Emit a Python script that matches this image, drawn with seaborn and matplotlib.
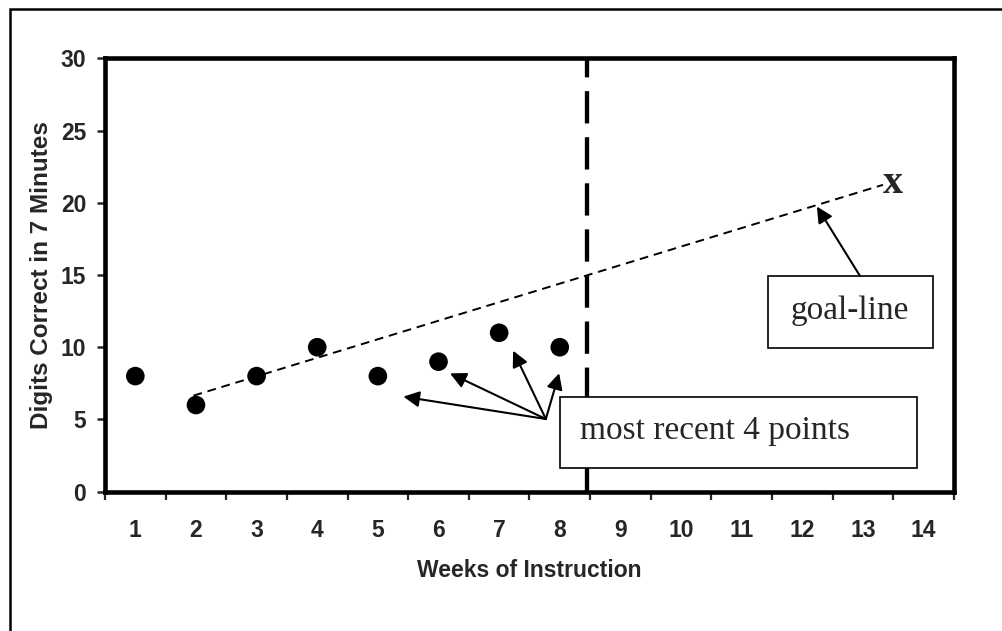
import matplotlib
matplotlib.use("Agg")
import matplotlib.pyplot as plt
from matplotlib.patches import Rectangle
import seaborn as sns

# Data

weeks = [1, 2, 3, 4, 5, 6, 7, 8]
digits_correct = [8, 6, 8, 10, 8, 9, 11, 10]
week_labels = [str(w) for w in range(1, 15)]
y_ticks = [0, 5, 10, 15, 20, 25, 30]

# goal-line: start (baseline) and end (goal "x")
goal_x = [1.96, 13.33]
goal_y = [6.65, 21.24]
goal_mark_x = 13.5
goal_mark_y = 21.33

# phase change between week 8 and 9
phase_change = 8.45

# the four most recent points the callout points at
recent_heads_x = [5.42, 6.19, 7.23, 7.99]
recent_heads_y = [6.58, 8.19, 9.76, 8.2]


def build_chart():
    sns.set_style("white")
    plt.rcParams["font.family"] = ["Liberation Sans", "DejaVu Sans"]
    plt.rcParams["font.weight"] = "bold"

    fig = plt.figure(figsize=(10.02, 6.31), dpi=100)
    ax = fig.add_axes([0.1048, 0.2208, 0.8472, 0.6868])

    # data points
    sns.scatterplot(x=weeks, y=digits_correct, ax=ax, s=180,
                    color="black", edgecolor="none", zorder=4)

    # goal-line
    sns.lineplot(x=goal_x, y=goal_y, ax=ax, color="black", lw=1.4,
                 linestyle=(0, (4.5, 3)), zorder=3)
    ax.text(goal_mark_x, goal_mark_y, "x", family="Liberation Serif",
            fontsize=29, fontweight="bold", ha="center", va="center")

    # vertical dashed phase line
    ax.axvline(phase_change, color="black", lw=3.1,
               linestyle=(0, (7.5, 3.2)), zorder=2)

    ax.set_xlim(0.5, 14.5)
    ax.set_ylim(0, 30)

    # category style x axis: labels at centres, ticks at boundaries
    ax.set_xticks(range(1, 15))
    ax.set_xticklabels(week_labels)
    ax.set_xticks([i + 0.5 for i in range(0, 15)], minor=True)
    ax.tick_params(axis="x", which="major", length=0, pad=20,
                   labelsize=16.5)
    ax.tick_params(axis="x", which="minor", length=6, width=1.6,
                   direction="out", bottom=True)
    ax.set_yticks(y_ticks)
    ax.tick_params(axis="y", length=5.5, width=1.8, direction="out",
                   pad=8, labelsize=16.5, left=True)

    for sp in ax.spines.values():
        sp.set_linewidth(3.3)
        sp.set_color("black")

    ax.set_xlabel("Weeks of Instruction", fontsize=16.5, fontweight="bold")
    ax.set_ylabel("Digits Correct in 7 Minutes", fontsize=17.5,
                  fontweight="bold")
    ax.xaxis.set_label_coords(0.5, -0.183)
    ax.xaxis.label.set_va("center")
    ax.yaxis.set_label_coords(-0.0754, 0.5)
    ax.yaxis.label.set_va("center")

    # callout boxes
    ax.add_patch(Rectangle((11.43, 9.95), 2.72, 4.99, fill=True,
                           facecolor="white", edgecolor="black", lw=1.2,
                           zorder=5))
    ax.text(12.79, 12.5, "goal-line", family="Liberation Serif",
            fontweight="normal", fontsize=24, ha="center", va="center",
            zorder=6)
    ax.add_patch(Rectangle((8.0, 1.64), 5.89, 4.92, fill=True,
                           facecolor="white", edgecolor="black", lw=1.2,
                           zorder=5))
    ax.text(8.33, 4.2, "most recent 4 points", family="Liberation Serif",
            fontweight="normal", fontsize=24, ha="left", va="center",
            zorder=6)

    arrow = dict(arrowstyle="-|>", color="black", lw=1.5,
                 mutation_scale=24, shrinkA=0, shrinkB=0)
    ax.annotate("", xy=(12.24, 19.74), xytext=(12.95, 14.94),
                arrowprops=arrow, zorder=6)
    for hx, hy in zip(recent_heads_x, recent_heads_y):
        ax.annotate("", xy=(hx, hy), xytext=(7.77, 5.03),
                    arrowprops=arrow, zorder=6)

    # outer frame (runs off the right and bottom edges)
    fig.add_artist(Rectangle((0.01, -0.2), 1.2, 0.2 + 0.9857, fill=False,
                             edgecolor="black", lw=1.8,
                             transform=fig.transFigure))

    fig.savefig("out.png", dpi=100, facecolor="white")


if __name__ == "__main__":
    build_chart()
